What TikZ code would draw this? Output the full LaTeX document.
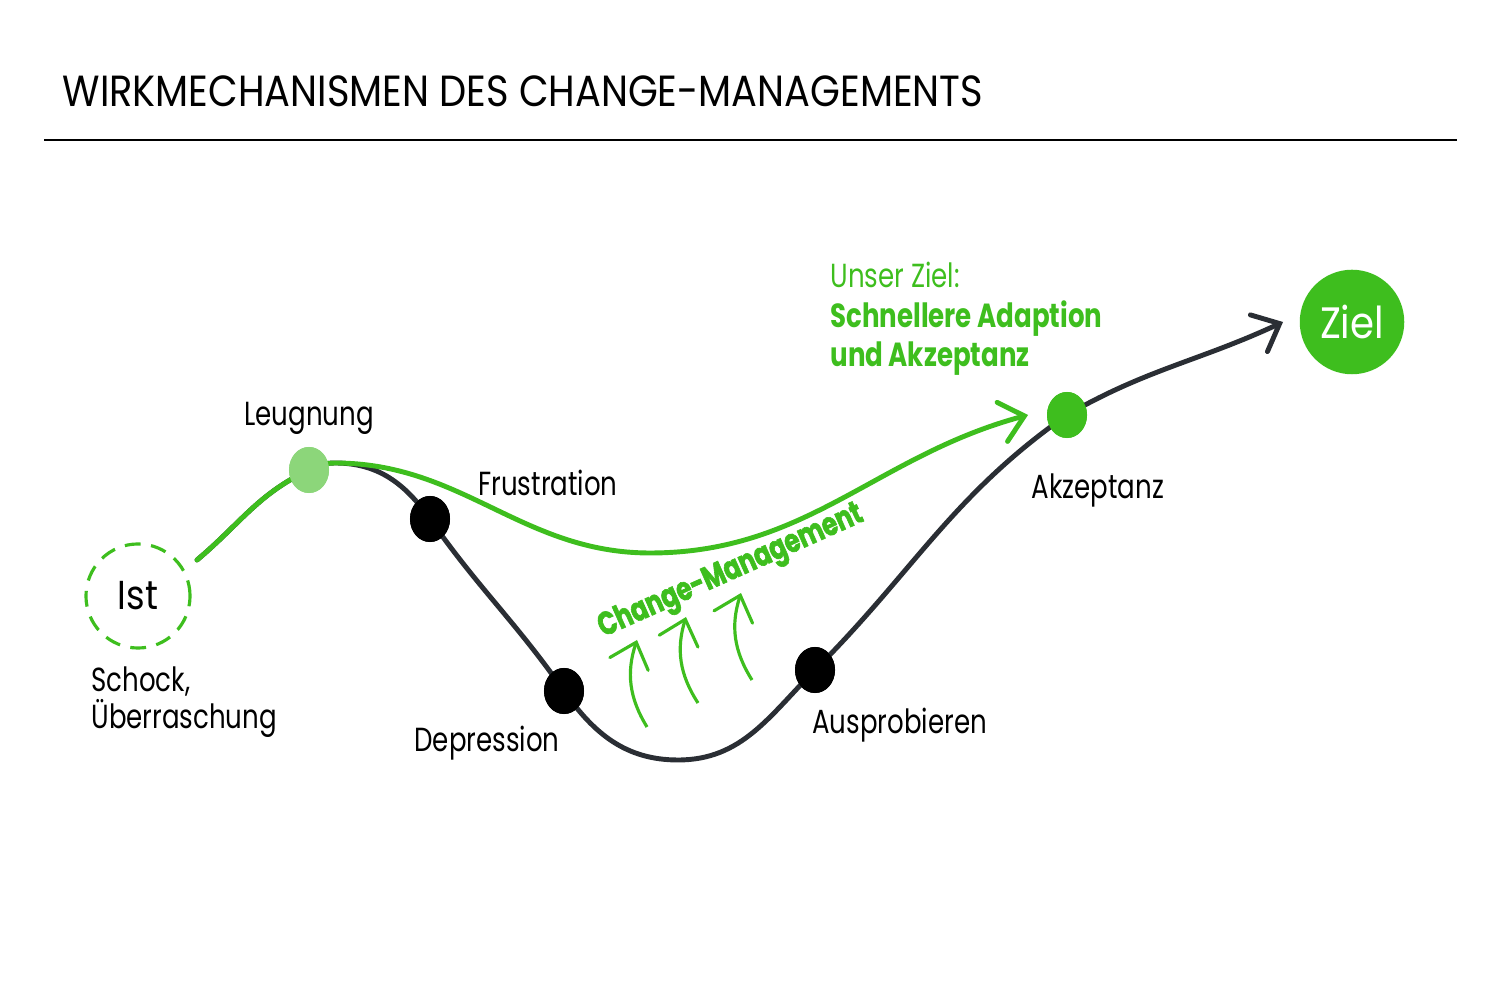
\documentclass[tikz,border=0pt]{standalone}
\usepackage{fontspec}
\setmainfont[FakeStretch=0.88]{Poppins}
\newfontfamily\labelfont[FakeStretch=0.78]{Poppins}
\newfontfamily\heavyfont[FakeStretch=0.75,FakeBold=1.8]{Poppins}
\usetikzlibrary{arrows.meta,shapes.geometric}
\definecolor{changegreen}{RGB}{62,190,30}
\definecolor{lightgreen}{RGB}{140,214,122}
\definecolor{curvegray}{RGB}{42,46,52}
\tikzset{
	phase/.style={ellipse,fill=black,minimum width=0.4cm,minimum height=0.46cm,inner sep=0pt},
	label/.style={font=\labelfont\fontsize{9.5}{12}\selectfont},
	curve/.style={line width=1.4pt,line cap=round},
	bump/.style={changegreen,line width=0.9pt,->,bend left=25},
}

\begin{document}
\begin{tikzpicture}[x=0.01cm,y=0.01cm,>={Straight Barb[length=6.5pt,width=11.5pt,line cap=round]}]
	\useasboundingbox (0,0) rectangle (1500,1000);
	
	\node [anchor=base west,inner sep=0pt,font=\fontsize{12.4}{15}\selectfont] (title) at (62,893) {WIRKMECHANISMEN DES CHANGE-MANAGEMENTS};
	\draw [line width=0.6pt] (44,860) -- (1457,860);
	
	\node [circle,draw=changegreen,dash pattern=on 4.5pt off 3pt,line width=0.9pt,minimum size=1.04cm,font=\fontsize{11.5}{13}\selectfont] (ist) at (138,404) {Ist};
	\node [circle,fill=changegreen,minimum size=1.04cm,text=white,font=\fontsize{12.5}{14}\selectfont] (ziel) at (1352,678) {Ziel};
	
	\coordinate (start) at (197,440);
	\coordinate (peak) at (335,537);
	\coordinate (low) at (678,240);
	\coordinate (gmin) at (650,447);
	\coordinate (gend) at (1028,585);
	\coordinate (end) at (1283,678);
	
	\node [phase,fill=lightgreen] (leug) at (309,530) {};
	\node [phase] (frus) at (430,481) {};
	\node [phase] (depr) at (564,309) {};
	\node [phase] (ausp) at (815,330) {};
	\node [phase,fill=changegreen] (akz) at (1067,585) {};
	
	% Verlauf ohne Begleitung
	\draw [curve,curvegray,->] (start) to[out=40,in=205] (leug.center) to[out=25,in=180] (peak)
		to[out=0,in=125] (frus.center) to[out=-55,in=125] (depr.center) to[out=-55,in=180] (low)
		to[out=0,in=-135] (ausp.center) to[out=45,in=-145] (akz.center) to[out=30,in=205] (end);
	% Verlauf mit Change-Management
	\draw [curve,changegreen,->] (start) to[out=40,in=205] (leug.center) to[out=25,in=180] (peak)
		to[out=0,in=180] (gmin) to[out=0,in=195] (gend);
	
	\node [phase,fill=lightgreen] at (leug) {};
	\node [phase] at (frus) {};
	\node [phase] at (depr) {};
	\node [phase] at (ausp) {};
	\node [phase,fill=changegreen] at (akz) {};
	
	\draw [bump] (647,273) to (637,360);
	\draw [bump] (698,297) to (686,383);
	\draw [bump] (752,320) to (741,407);
	
	\node [label] (leugtext) at (309,582) {Leugnung};
	\node [label,anchor=west] (frustext) at (466,517) {Frustration};
	\node [label] (deprtext) at (487,257) {Depression};
	\node [label,anchor=west] (ausptext) at (800,275) {Ausprobieren};
	\node [label] (akztext) at (1098,510) {Akzeptanz};
	\node [label,anchor=west,align=left,font=\labelfont\fontsize{9.5}{10.6}\selectfont] (schock) at (79,298) {Schock,\\Überraschung};
	
	\node [anchor=west,align=left,text=changegreen,font=\labelfont\fontsize{9.5}{11.2}\selectfont] (goal) at (818,681)
		{Unser Ziel:\\\textbf{Schnellere Adaption}\\\textbf{und Akzeptanz}};
	\node [rotate=24,text=changegreen,font=\heavyfont\bfseries\fontsize{9.3}{11}\selectfont] (cm) at (731,428) {Change-Management};
\end{tikzpicture}
\end{document}
